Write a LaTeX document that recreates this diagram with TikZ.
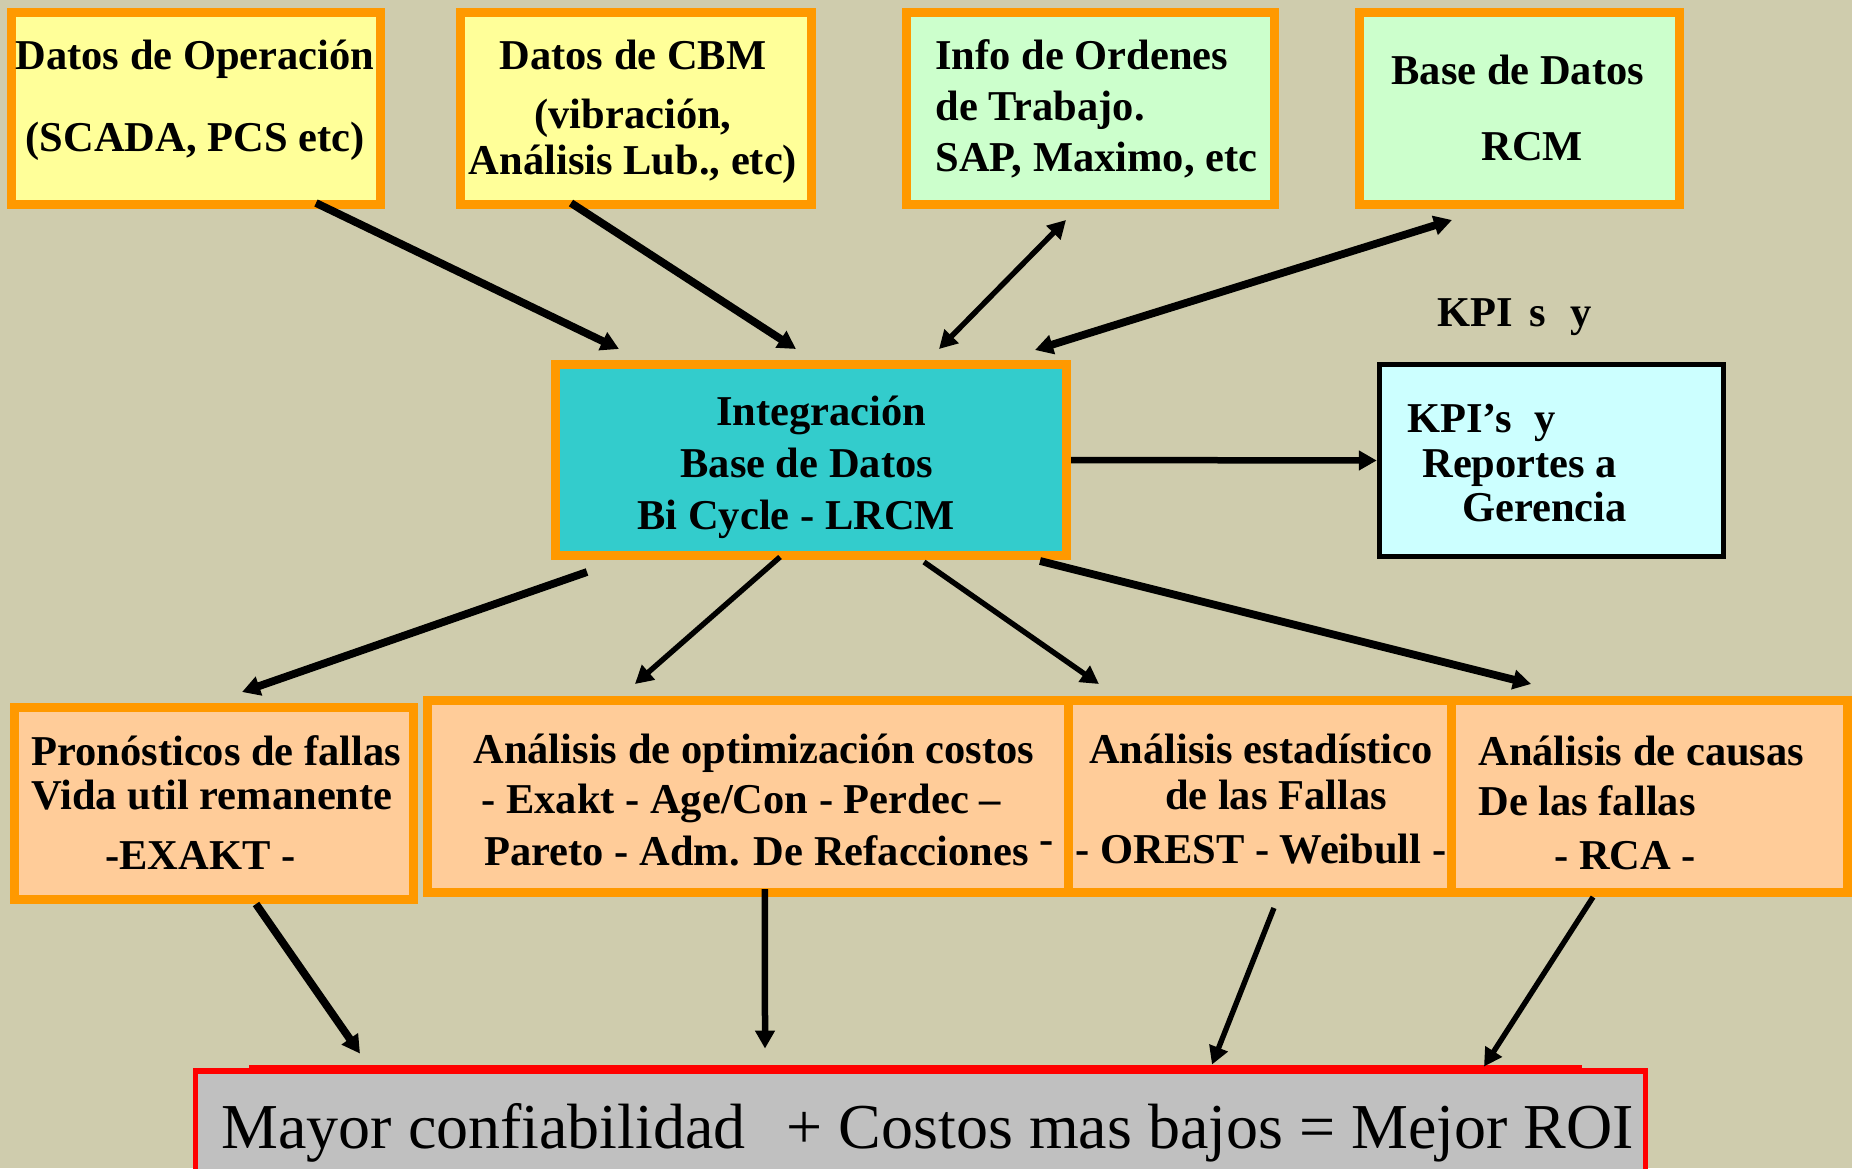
\documentclass[tikz,border=0pt]{standalone}
\usepackage{fontspec}
\setmainfont{Liberation Serif}
\usetikzlibrary{arrows.meta}
\definecolor{fondo}{RGB}{207,204,173}
\definecolor{naranja}{RGB}{255,153,0}
\definecolor{amarillo}{RGB}{255,255,153}
\definecolor{verde}{RGB}{204,255,204}
\definecolor{turquesa}{RGB}{51,204,204}
\definecolor{celeste}{RGB}{204,255,255}
\definecolor{durazno}{RGB}{255,204,153}
\definecolor{gris}{RGB}{192,192,192}
\setlength{\lineskiplimit}{-100pt}
\tikzset{>={Triangle[length=9pt,width=9.5pt]},
  caja/.style={draw=naranja,line width=4.5pt,minimum height=96pt,inner sep=0pt},
  texto/.style={inner sep=0pt,font=\fontsize{21.25}{22}\selectfont\bfseries},
  flecha/.style={line width=3.25pt,->},
  gruesa/.style={flecha,line width=3.9pt},
  fina/.style={flecha,line width=2.7pt}}

\begin{document}
\begin{tikzpicture}[x=0.5pt,y=-0.5pt]
  \useasboundingbox (0,0) rectangle (1852,1168);
  \clip (0,0) rectangle (1852,1168);
  \fill[fondo] (0,0) rectangle (1852,1168);
  % fuentes de datos
  \node[caja,fill=amarillo,minimum width=184.5pt] (op) at (196,108.5) {};
  \node[caja,fill=amarillo,minimum width=175.5pt] (cbm) at (636,108.5) {};
  \node[caja,fill=verde,minimum width=184pt] (ot) at (1090.5,108.5) {};
  \node[caja,fill=verde,minimum width=160pt] (rcm) at (1519.5,108.5) {};
  % integracion y reportes
  \node[caja,fill=turquesa,minimum width=255.5pt,minimum height=95.5pt] (int) at (811,460) {};
  \node[draw=black,line width=2.75pt,fill=celeste,minimum width=172pt,minimum height=96pt,inner sep=0pt] (kpi) at (1551.5,460.5) {};
  % analisis
  \node[caja,fill=durazno,minimum width=199.5pt] (pro) at (214,803.5) {};
  \node[caja,fill=durazno,minimum width=320.25pt] (opt) at (747.75,796.5) {};
  \node[caja,fill=durazno,minimum width=191.75pt] (est) at (1259.75,796.5) {};
  \node[caja,fill=durazno,minimum width=197.75pt] (cau) at (1649.25,796.5) {};
  % resultado
  \node[draw=red,line width=2.85pt,fill=gris,minimum width=725pt,minimum height=59.5pt,inner sep=0pt] (roi) at (920.5,1130.5) {};
  \draw[red,line width=1.5pt] (249,1066.5) -- (1582,1066.5);

  % textos (base = ultima linea)
  \node[texto,align=center,anchor=base] (opT) at (195,151) {Datos de Operación\\[19pt](SCADA, PCS etc)};
  \node[texto,align=center,anchor=base] (cbmT) at (633,174) {Datos de CBM\\[7.5pt](vibración,\\[1pt]Análisis Lub., etc)};
  \node[texto,align=left,anchor=base west] (otT) at (935,171) {Info de Ordenes\\[3.5pt]de Trabajo.\\[3.5pt]SAP, Maximo, etc};
  \node[texto,align=left,anchor=base west] (rcmT) at (1391,160) {Base de Datos\\[16pt]\hspace*{45pt}RCM};
  \node[texto,align=left,anchor=base west] (intT) at (637,529) {\hspace*{39.5pt}Integración\\[4pt]\hspace*{21.5pt}Base de Datos\\[4pt]Bi Cycle - LRCM};
  \node[texto,anchor=base west] (kpiL) at (1437,326) {KPI\hspace{8.5pt}s\hspace{12pt}y};
  \node[texto,align=left,anchor=base west] (kpiT) at (1407,521) {KPI’s\hspace{11pt}y\\[0.5pt]\hspace*{7.5pt}Reportes a\\\hspace*{27.5pt}Gerencia};
  \node[texto,align=left,anchor=base west] (proT) at (31,869) {Pronósticos de fallas\\Vida util remanente\\[8pt]\hspace*{37pt}-EXAKT -};
  \node[texto,align=left,anchor=base west] (optT) at (473,865) {Análisis de optimización costos\\[3pt]\hspace*{4pt}- Exakt - Age/Con - Perdec –\\[4pt]\hspace*{5.5pt}Pareto - Adm. De Refacciones \raisebox{6pt}{-}};
  \node[texto,align=center,anchor=base] (estT) at (1261,863) {Análisis estadístico\\[1pt]\hspace*{15pt}de las Fallas\\[5pt]- OREST - Weibull -};
  \node[texto,align=left,anchor=base west] (cauT) at (1478,869) {Análisis de causas\\[3pt]De las fallas\\[5pt]\hspace*{38pt}- RCA -};
  \node[inner sep=0pt,anchor=base west,font=\fontsize{32}{38}\selectfont] (roiT) at (221,1148) {Mayor confiabilidad\hspace{20.5pt}+ Costos mas bajos = Mejor ROI};

  % flechas
  \draw[gruesa] ([xshift=60pt,yshift=3pt]op.south) -- ([xshift=-96pt,yshift=5.5pt]int.north);
  \draw[gruesa] ([xshift=-32.5pt,yshift=3pt]cbm.south) -- ([xshift=-7.5pt,yshift=5.5pt]int.north);
  \draw[fina,<->] ([xshift=-12.25pt,yshift=-5.5pt]ot.south) -- ([xshift=64pt,yshift=5.5pt]int.north);
  \draw[gruesa,<->] ([xshift=-33.75pt,yshift=-5.5pt]rcm.south) -- ([xshift=112pt,yshift=5pt]int.north);
  \draw[flecha] (int.east) -- (kpi.west);
  \draw[gruesa] ([xshift=-112pt,yshift=-6pt]int.south) -- ([xshift=14pt,yshift=5.5pt]pro.north);
  \draw[fina] ([xshift=-15.5pt,yshift=1.5pt]int.south) -- ([xshift=-56.4pt,yshift=6pt]opt.north);
  \draw[fina] ([xshift=56.5pt,yshift=-1pt]int.south) -- ([xshift=-80.4pt,yshift=6pt]est.north);
  \draw[gruesa] ([xshift=114.5pt,yshift=-0.5pt]int.south) -- ([xshift=-59.1pt,yshift=6pt]cau.north);
  \draw[gruesa] ([xshift=21pt]pro.south) -- ([xshift=-280.25pt,yshift=7.3pt]roi.north);
  \draw[flecha] ([xshift=8.6pt,yshift=4pt]opt.south) -- ([xshift=-77.75pt,yshift=9.8pt]roi.north);
  \draw[fina] ([xshift=7.1pt,yshift=-5.5pt]est.south) -- ([xshift=145.75pt,yshift=1.8pt]roi.north);
  \draw[fina] ([xshift=-28.1pt]cau.south) -- ([xshift=281.75pt,yshift=0.8pt]roi.north);
\end{tikzpicture}
\end{document}
